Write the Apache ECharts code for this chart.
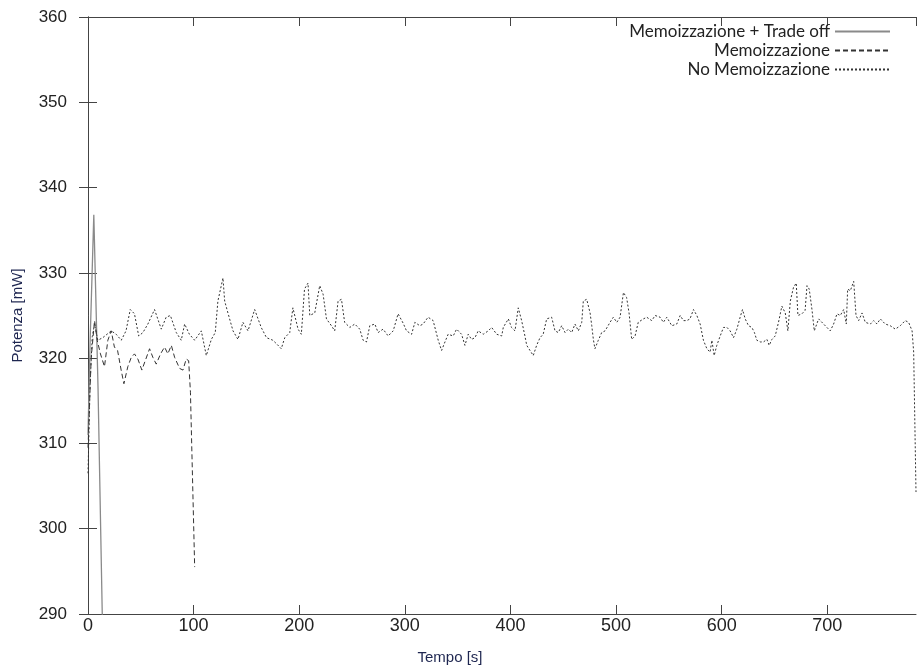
<!DOCTYPE html>
<html>
<head>
<meta charset="utf-8">
<script src="https://cdn.jsdelivr.net/npm/echarts@6/dist/echarts.min.js"></script>
<style>
  html, body { margin: 0; padding: 0; background: #fff; }
  #chart { width: 917px; height: 670px; }
</style>
</head>
<body>
<div id="chart"></div>
<script>
// potenza nel tempo, tre configurazioni
var seriesNames = ['Memoizzazione + Trade off', 'Memoizzazione', 'No Memoizzazione'];

var tradeOffT = [0, 2, 5.5, 9.5, 13.5, 15];
var tradeOffV = [311, 322, 336.8, 316.5, 290, 281];

var memoT = [0, 3, 6.2, 8.7, 11.8, 15.6, 18.8, 22, 25, 28, 31.4, 34, 37.7, 41, 44, 47.2, 51, 54.2,
  58.3, 61.4, 64.6, 68.7, 72.5, 75.6, 78.9, 82, 86.7, 89.9, 93, 95.3, 97, 101];
var memoV = [309.5, 320, 324.4, 322.1, 320.5, 319, 322.1, 323.2, 321.3, 320.9, 318.6, 317, 319, 320.1,
  320.5, 319.9, 318.6, 319.7, 321.1, 320.1, 319.3, 320.5, 321.3, 320.5, 321.5, 320.1, 318.8, 318.6,
  319.9, 319.7, 316, 295.5];

var noMemoT = [0, 2, 4, 6.2, 9.3, 14, 18, 22, 26.7, 31.5, 36, 40, 44, 48, 52, 56.7, 63, 69.4, 74, 78,
  83.6, 88.3, 91.5, 96, 101, 107.3, 112, 116.8, 120.5, 123, 127.8, 129.4, 132.5, 137.3, 142, 146.7,
  151.5, 157.8, 164, 169, 175, 178.4, 183, 186.3, 191, 194, 198.9, 202, 205, 208.3, 210, 214.7, 219.4,
  222.6, 225.8, 230.5, 233.6, 236.8, 240, 243, 247.9, 252.6, 257.3, 260.5, 263.7, 266.8, 271.6, 274.7,
  279.4, 284.2, 289, 293.6, 298.4, 301.6, 306.4, 309.5, 314.2, 317.3, 322, 326.8, 331.6, 334.8, 338,
  341, 345.8, 349, 353.7, 356.9, 360, 363.2, 366.4, 369.5, 374.2, 379, 382.2, 387, 391.7, 393.2, 398,
  401, 404.3, 407.4, 410.6, 413.7, 415.4, 418.5, 421.6, 424.8, 428, 431, 434.3, 439, 442.2, 445.3,
  448.5, 451.7, 454.8, 458, 461.1, 464.3, 467.5, 469, 472.2, 475.4, 477, 478.5, 480, 483.2, 486.4,
  489.6, 494.3, 497.4, 500.7, 503.8, 507, 510, 512.3, 514.8, 518, 521, 525.9, 529, 533.8, 537, 541.7,
  544.8, 548, 552.8, 557.5, 560.7, 563.8, 567, 570, 573.3, 576.5, 579.6, 582.7, 586, 589, 590.7, 592.9,
  595.4, 598.6, 601.7, 605, 608, 611.2, 614.4, 617.5, 619.7, 622.3, 625.4, 628.6, 631, 633.3, 636.5,
  639.6, 642.8, 645, 647.6, 650.7, 653.8, 657, 660.2, 662.7, 665, 668, 670.6, 672.2, 676, 679, 680.8,
  682.9, 685.5, 687.7, 691.8, 696.5, 702.8, 706, 709.2, 712.3, 715.5, 718, 719.3, 721.8, 725, 727.2,
  729.7, 732.9, 736, 740.8, 743.9, 747, 750.2, 754.9, 759.6, 764.4, 769.1, 773.8, 777, 780.3, 781.8, 784];
var noMemoV = [306.5, 317, 322.5, 324, 322.1, 322.4, 322.8, 323.2, 322.8, 322.1, 323.2, 325.7, 325.2,
  322.6, 323, 324, 325.7, 323.4, 324.8, 325, 323, 322.1, 324, 322.8, 322.1, 323.2, 320.3, 322.2, 323,
  326.7, 329.4, 326.7, 325.3, 323.2, 322.2, 324.2, 323.2, 325.7, 323.6, 322.4, 322.1, 321.7, 321.1,
  322.4, 323, 325.9, 323.4, 322.8, 328.1, 328.8, 325, 325.3, 328.5, 327.5, 324.6, 323.8, 323.2, 326.7,
  326.9, 324.2, 323.6, 324, 323.4, 322.1, 321.9, 323.8, 324, 323, 323.4, 322.6, 323.2, 325.2, 324.1,
  323.2, 322.8, 324.2, 323.8, 324, 324.8, 324.4, 322.1, 320.9, 321.9, 322.8, 322.6, 323.4, 322.8,
  321.5, 322.8, 322.2, 322.4, 323.2, 322.8, 323.2, 323.6, 322.8, 322.6, 323.6, 324.6, 323.6, 323.2,
  325.9, 324.4, 322.6, 321.5, 320.9, 320.3, 321.5, 322.4, 322.8, 324.6, 324.8, 323.2, 323, 323.8, 323,
  323.4, 323, 324, 323.2, 324.2, 326.7, 326.9, 325.3, 323.8, 322.2, 321.1, 322.1, 323, 323.2, 324.2,
  324.8, 324.2, 324.8, 327.7, 327.1, 325.3, 322.2, 322.6, 324.2, 324.6, 324.8, 324.4, 325, 324.8,
  324.2, 324.8, 323.8, 324, 325, 324.4, 324.4, 324.6, 325.7, 325, 324, 322.1, 321.1, 320.7, 322.1,
  320.3, 321.5, 322.6, 323.6, 323.6, 323.2, 322.4, 323.4, 324.8, 325.7, 324.6, 323.8, 323.6, 323,
  322.1, 321.9, 321.9, 322.2, 321.5, 322.2, 322.6, 324.2, 326.1, 325.3, 323.2, 326.7, 328.3, 328.8,
  325, 325.2, 325.6, 328.5, 328.1, 325.7, 323.2, 324.6, 324, 323.2, 324, 325.2, 325, 325.7, 324,
  328.1, 327.9, 329, 325, 324.4, 325.3, 324.2, 324, 324.4, 324, 324.6, 324, 323.8, 323.4, 323.8,
  324.4, 324.2, 323.2, 320.7, 304.3];

var xTicks = { min: 0, max: 784, step: 100 };
var yTicks = { min: 290, max: 360, step: 10 };

function zip(ts, vs) {
  var out = [];
  for (var i = 0; i < ts.length; i++) out.push([ts[i], vs[i]]);
  return out;
}

var chart = echarts.init(document.getElementById('chart'));
var frame = '#444';
var labelFont = 'Liberation Sans, Arial, sans-serif';

function mirrorAxis(pos, t) {
  return {
    type: 'value', position: pos, min: t.min, max: t.max, interval: t.step,
    axisLine: { show: true, lineStyle: { color: frame, width: 1 } },
    axisTick: { show: true, inside: true, length: 9, lineStyle: { color: frame } },
    axisLabel: { show: false },
    splitLine: { show: false }
  };
}

function legendRow(name, top) {
  return {
    data: [name], orient: 'vertical', right: 26, top: top, padding: 0,
    align: 'right', itemWidth: 55, itemHeight: 14, selectedMode: false,
    itemStyle: { opacity: 0 },
    textStyle: { fontFamily: 'Lato, sans-serif', fontSize: 17, color: '#222' }
  };
}

chart.setOption({
  animation: false,
  grid: { left: 88, right: 1, top: 17, bottom: 51 },
  legend: [legendRow(seriesNames[0], 23), legendRow(seriesNames[1], 42), legendRow(seriesNames[2], 61)],
  xAxis: [{
    type: 'value', min: xTicks.min, max: xTicks.max, interval: xTicks.step,
    name: 'Tempo [s]', nameLocation: 'middle', nameGap: 36,
    nameTextStyle: { fontFamily: labelFont, fontSize: 15, color: '#1e2650', padding: [0, 104, 0, 0] },
    axisLine: { show: true, lineStyle: { color: frame, width: 1 } },
    axisTick: { show: true, inside: true, length: 9, lineStyle: { color: frame } },
    axisLabel: { fontFamily: labelFont, fontSize: 18, color: '#222', margin: 3, showMaxLabel: false },
    splitLine: { show: false }
  }, mirrorAxis('top', xTicks)],
  yAxis: [{
    type: 'value', min: yTicks.min, max: yTicks.max, interval: yTicks.step,
    name: 'Potenza [mW]', nameLocation: 'middle', nameGap: 63,
    nameTextStyle: { fontFamily: labelFont, fontSize: 15, color: '#1e2650' },
    axisLine: { show: true, lineStyle: { color: frame, width: 1 } },
    axisTick: { show: true, inside: true, length: 9, lineStyle: { color: frame } },
    axisLabel: { fontFamily: labelFont, fontSize: 17, color: '#222', margin: 21 },
    splitLine: { show: false }
  }, mirrorAxis('right', yTicks)],
  series: [{
    name: seriesNames[0], type: 'line', symbol: 'none', clip: true,
    data: zip(tradeOffT, tradeOffV),
    itemStyle: { color: '#8a8a8a' },
    lineStyle: { color: '#8a8a8a', width: 1.3 }
  }, {
    name: seriesNames[1], type: 'line', symbol: 'none', clip: true,
    data: zip(memoT, memoV),
    itemStyle: { color: '#333' },
    lineStyle: { color: '#333', width: 1, type: [5, 3] }
  }, {
    name: seriesNames[2], type: 'line', symbol: 'none', clip: true,
    data: zip(noMemoT, noMemoV),
    itemStyle: { color: '#333' },
    lineStyle: { color: '#333', width: 1, type: [2, 2] }
  }]
});
</script>
</body>
</html>
